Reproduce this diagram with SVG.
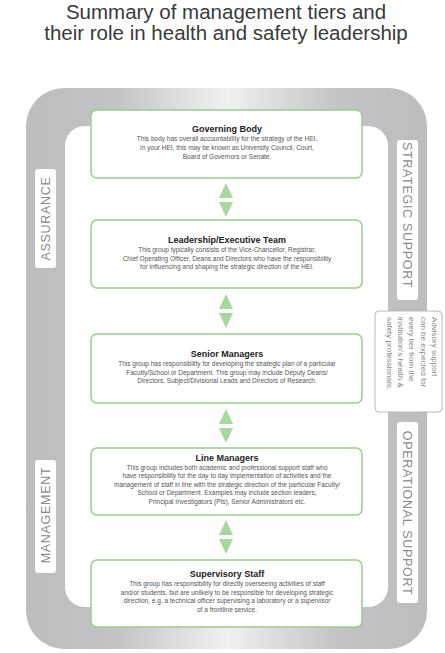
<svg xmlns="http://www.w3.org/2000/svg" width="445" height="653" viewBox="0 0 445 653">
<defs>
<linearGradient id="frameGrad" x1="26" y1="0" x2="427" y2="0" gradientUnits="userSpaceOnUse">
<stop offset="0" stop-color="#bdbdc0"/>
<stop offset="0.22" stop-color="#c3c3c5"/>
<stop offset="0.5" stop-color="#f1f1f1"/>
<stop offset="0.78" stop-color="#c3c3c5"/>
<stop offset="1" stop-color="#bdbdc0"/>
</linearGradient>
<style>
.title{font-family:"Liberation Sans",Arial,sans-serif;font-size:20.5px;fill:#3a3a3a;text-anchor:middle}
.box{fill:#ffffff;stroke:#96cf8b;stroke-width:1.5}
.bt{font-family:"Liberation Sans",Arial,sans-serif;font-size:9px;font-weight:bold;fill:#222;text-anchor:middle}
.bd{font-family:"Liberation Sans",Arial,sans-serif;font-size:6.5px;fill:#555;text-anchor:middle}
.lab{fill:#ffffff}
.lt{font-family:"Liberation Sans",Arial,sans-serif;font-size:12.5px;fill:#8a8a8a;text-anchor:middle;letter-spacing:0.7px}
.adv{font-family:"Liberation Sans",Arial,sans-serif;font-size:8px;fill:#8a8a8a}
.arr{fill:#a9d7a0}
</style>
</defs>
<rect width="445" height="653" fill="#ffffff"/>
<g id="title">
<text class="title" x="226" y="19">Summary of management tiers and</text>
<text class="title" x="226" y="40">their role in health and safety leadership</text>
</g>
<g id="frame">
<path fill="url(#frameGrad)" fill-rule="evenodd" d="M64,88 H389 A38,38 0 0 1 427,126 V611 A38,38 0 0 1 389,649 H64 A38,38 0 0 1 26,611 V126 A38,38 0 0 1 64,88 Z M85,126 H368 A20,20 0 0 1 388,146 V587 A20,20 0 0 1 368,607 H85 A20,20 0 0 1 65,587 V146 A20,20 0 0 1 85,126 Z"/>
</g>
<g id="label-assurance">
<rect class="lab" x="35" y="169" width="21" height="99" rx="3"/>
<text class="lt" transform="translate(49.5,218.5) rotate(-90)">ASSURANCE</text>
</g>
<g id="label-management">
<rect class="lab" x="35" y="460" width="21" height="113" rx="3"/>
<text class="lt" transform="translate(49.5,515) rotate(-90)">MANAGEMENT</text>
</g>
<g id="label-strategic">
<rect class="lab" x="397" y="140" width="21" height="160" rx="3"/>
<text class="lt" transform="translate(402.5,215) rotate(90)">STRATEGIC SUPPORT</text>
</g>
<g id="label-operational">
<rect class="lab" x="397" y="422" width="21" height="181" rx="3"/>
<text class="lt" transform="translate(402.5,513) rotate(90)">OPERATIONAL SUPPORT</text>
</g>
<g id="advisory">
<rect x="375" y="311" width="67" height="101" rx="4" fill="#ffffff" stroke="#b8b8b8" stroke-width="1"/>
<text class="adv" transform="translate(432,317) rotate(90)">
<tspan x="0" y="0">Advisory support</tspan>
<tspan x="0" y="11.3">can be expected for</tspan>
<tspan x="0" y="22.6">every tier from the</tspan>
<tspan x="0" y="33.9">institution's health &amp;</tspan>
<tspan x="0" y="45.2">safety professionals.</tspan>
</text>
</g>
<g id="connectors">
<polygon class="arr" points="226,183 233,198 219,198"/>
<polygon class="arr" points="219,202 233,202 226,217"/>
<polygon class="arr" points="226,294 233,309 219,309"/>
<polygon class="arr" points="219,313 233,313 226,328"/>
<polygon class="arr" points="226,409 233,424 219,424"/>
<polygon class="arr" points="219,428 233,428 226,443"/>
<polygon class="arr" points="226,520 233,535 219,535"/>
<polygon class="arr" points="219,539 233,539 226,554"/>
</g>
<g id="governing-body">
<rect class="box" x="91" y="110" width="271" height="68" rx="6"/>
<text class="bt" x="227" y="132">Governing Body</text>
<text class="bd" x="227" y="141">This body has overall accountability for the strategy of the HEI.</text>
<text class="bd" x="227" y="150">In your HEI, this may be known as University Council, Court,</text>
<text class="bd" x="227" y="159">Board of Governors or Senate.</text>
</g>
<g id="leadership-team">
<rect class="box" x="91" y="220" width="271" height="68" rx="6"/>
<text class="bt" x="227" y="243">Leadership/Executive Team</text>
<text class="bd" x="227" y="252">This group typically consists of the Vice-Chancellor, Registrar,</text>
<text class="bd" x="227" y="260.5">Chief Operating Officer, Deans and Directors who have the responsibility</text>
<text class="bd" x="227" y="269">for influencing and shaping the strategic direction of the HEI.</text>
</g>
<g id="senior-managers">
<rect class="box" x="91" y="334" width="271" height="69" rx="6"/>
<text class="bt" x="227" y="357">Senior Managers</text>
<text class="bd" x="227" y="366">This group has responsibility for developing the strategic plan of a particular</text>
<text class="bd" x="227" y="374.5">Faculty/School or Department. This group may include Deputy Deans/</text>
<text class="bd" x="227" y="383">Directors, Subject/Divisional Leads and Directors of Research.</text>
</g>
<g id="line-managers">
<rect class="box" x="91" y="448" width="271" height="67" rx="6"/>
<text class="bt" x="227" y="461">Line Managers</text>
<text class="bd" x="227" y="469.5">This group includes both academic and professional support staff who</text>
<text class="bd" x="227" y="478">have responsibility for the day to day implementation of activities and the</text>
<text class="bd" x="227" y="486.5">management of staff in line with the strategic direction of the particular Faculty/</text>
<text class="bd" x="227" y="495">School or Department. Examples may include section leaders,</text>
<text class="bd" x="227" y="503.5">Principal Investigators (PIs), Senior Administrators etc.</text>
</g>
<g id="supervisory-staff">
<rect class="box" x="91" y="560" width="271" height="67" rx="6"/>
<text class="bt" x="227" y="577">Supervisory Staff</text>
<text class="bd" x="227" y="586">This group has responsibility for directly overseeing activities of staff</text>
<text class="bd" x="227" y="594.5">and/or students, but are unlikely to be responsible for developing strategic</text>
<text class="bd" x="227" y="603">direction, e.g. a technical officer supervising a laboratory or a supervisor</text>
<text class="bd" x="227" y="611.5">of a frontline service.</text>
</g>
</svg>
